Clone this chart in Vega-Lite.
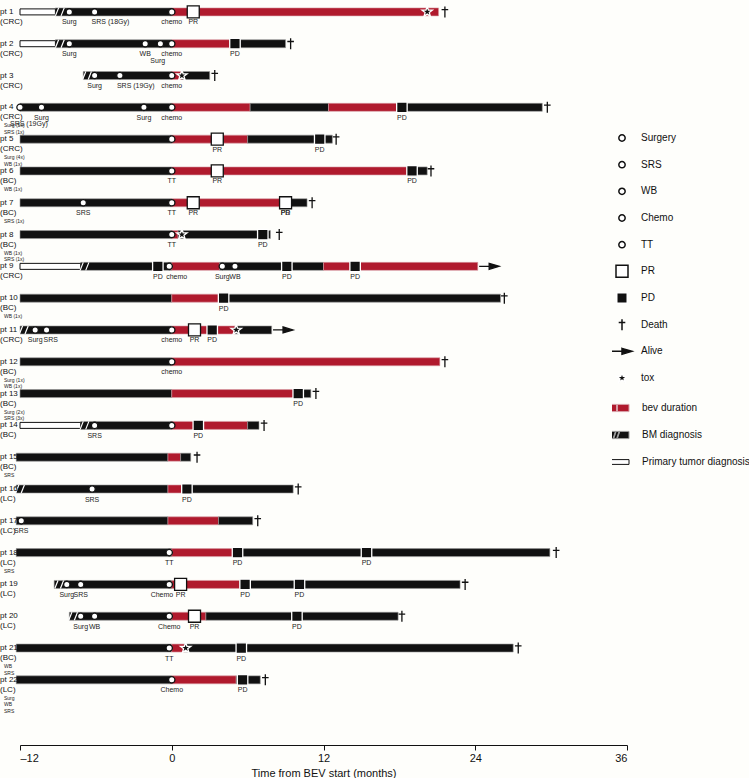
{
  "$schema": "https://vega.github.io/schema/vega-lite/v6.json",
  "width": 607,
  "height": 745,
  "padding": 0,
  "background": "#fefefb",
  "config": {"font": "Liberation Sans", "view": {"stroke": null}, "legend": {"labelFontSize": 10, "labelColor": "#111111", "padding": 0}},
  "datasets": {
    "segments": [
      {"row": 1, "phase": "Primary tumor diagnosis", "start": -12, "end": -9.2},
      {"row": 1, "phase": "BM diagnosis", "start": -9.2, "end": 0},
      {"row": 1, "phase": "bev duration", "start": 0, "end": 21.1},
      {"row": 2, "phase": "Primary tumor diagnosis", "start": -12, "end": -9.2},
      {"row": 2, "phase": "BM diagnosis", "start": -9.2, "end": 0},
      {"row": 2, "phase": "bev duration", "start": 0, "end": 4.6},
      {"row": 2, "phase": "BM diagnosis", "start": 4.6, "end": 9.0},
      {"row": 3, "phase": "BM diagnosis", "start": -7.0, "end": 0},
      {"row": 3, "phase": "bev duration", "start": 0, "end": 0.8},
      {"row": 3, "phase": "BM diagnosis", "start": 0.8, "end": 3.0},
      {"row": 4, "phase": "BM diagnosis", "start": -12, "end": 0},
      {"row": 4, "phase": "bev duration", "start": 0, "end": 6.2},
      {"row": 4, "phase": "BM diagnosis", "start": 6.2, "end": 12.4},
      {"row": 4, "phase": "bev duration", "start": 12.4, "end": 17.9},
      {"row": 4, "phase": "BM diagnosis", "start": 17.9, "end": 29.3},
      {"row": 5, "phase": "BM diagnosis", "start": -12, "end": 0},
      {"row": 5, "phase": "bev duration", "start": 0, "end": 6.0},
      {"row": 5, "phase": "BM diagnosis", "start": 6.0, "end": 12.7},
      {"row": 6, "phase": "BM diagnosis", "start": -12, "end": 0},
      {"row": 6, "phase": "bev duration", "start": 0, "end": 18.7},
      {"row": 6, "phase": "BM diagnosis", "start": 18.7, "end": 20.2},
      {"row": 7, "phase": "BM diagnosis", "start": -12, "end": 0},
      {"row": 7, "phase": "bev duration", "start": 0, "end": 8.6},
      {"row": 7, "phase": "BM diagnosis", "start": 8.6, "end": 10.7},
      {"row": 8, "phase": "BM diagnosis", "start": -12, "end": 0},
      {"row": 8, "phase": "bev duration", "start": 0, "end": 0.5},
      {"row": 8, "phase": "BM diagnosis", "start": 0.5, "end": 7.8},
      {"row": 9, "phase": "Primary tumor diagnosis", "start": -12, "end": -7.2},
      {"row": 9, "phase": "BM diagnosis", "start": -7.2, "end": 0},
      {"row": 9, "phase": "bev duration", "start": 0, "end": 3.8},
      {"row": 9, "phase": "BM diagnosis", "start": 3.8, "end": 12.0},
      {"row": 9, "phase": "bev duration", "start": 12.0, "end": 24.2},
      {"row": 10, "phase": "BM diagnosis", "start": -12, "end": 0},
      {"row": 10, "phase": "bev duration", "start": 0, "end": 3.8},
      {"row": 10, "phase": "BM diagnosis", "start": 3.8, "end": 26.0},
      {"row": 11, "phase": "BM diagnosis", "start": -12, "end": 0},
      {"row": 11, "phase": "bev duration", "start": 0, "end": 5.0},
      {"row": 11, "phase": "BM diagnosis", "start": 5.0, "end": 7.9},
      {"row": 12, "phase": "BM diagnosis", "start": -12, "end": 0},
      {"row": 12, "phase": "bev duration", "start": 0, "end": 21.2},
      {"row": 13, "phase": "BM diagnosis", "start": -12, "end": 0},
      {"row": 13, "phase": "bev duration", "start": 0, "end": 9.7},
      {"row": 13, "phase": "BM diagnosis", "start": 9.7, "end": 11.0},
      {"row": 14, "phase": "Primary tumor diagnosis", "start": -12, "end": -7.2},
      {"row": 14, "phase": "BM diagnosis", "start": -7.2, "end": 0},
      {"row": 14, "phase": "bev duration", "start": 0, "end": 6.0},
      {"row": 14, "phase": "BM diagnosis", "start": 6.0, "end": 6.9},
      {"row": 15, "phase": "BM diagnosis", "start": -12.3, "end": -0.3},
      {"row": 15, "phase": "bev duration", "start": -0.3, "end": 0.7},
      {"row": 15, "phase": "BM diagnosis", "start": 0.7, "end": 1.5},
      {"row": 16, "phase": "BM diagnosis", "start": -12.3, "end": -0.3},
      {"row": 16, "phase": "bev duration", "start": -0.3, "end": 0.8},
      {"row": 16, "phase": "BM diagnosis", "start": 0.8, "end": 9.6},
      {"row": 17, "phase": "BM diagnosis", "start": -12.3, "end": -0.3},
      {"row": 17, "phase": "bev duration", "start": -0.3, "end": 3.7},
      {"row": 17, "phase": "BM diagnosis", "start": 3.7, "end": 6.4},
      {"row": 18, "phase": "BM diagnosis", "start": -12.3, "end": 0},
      {"row": 18, "phase": "bev duration", "start": 0, "end": 4.9},
      {"row": 18, "phase": "BM diagnosis", "start": 4.9, "end": 29.9},
      {"row": 19, "phase": "BM diagnosis", "start": -9.3, "end": 0},
      {"row": 19, "phase": "bev duration", "start": 0, "end": 5.4},
      {"row": 19, "phase": "BM diagnosis", "start": 5.4, "end": 22.8},
      {"row": 20, "phase": "BM diagnosis", "start": -8.1, "end": 0},
      {"row": 20, "phase": "bev duration", "start": 0, "end": 2.7},
      {"row": 20, "phase": "BM diagnosis", "start": 2.7, "end": 17.9},
      {"row": 21, "phase": "BM diagnosis", "start": -12.3, "end": 0},
      {"row": 21, "phase": "bev duration", "start": 0, "end": 1.0},
      {"row": 21, "phase": "BM diagnosis", "start": 1.0, "end": 27.0},
      {"row": 22, "phase": "BM diagnosis", "start": -12.3, "end": 0},
      {"row": 22, "phase": "bev duration", "start": 0, "end": 5.1},
      {"row": 22, "phase": "BM diagnosis", "start": 5.1, "end": 7.0}
    ],
    "bm": [
      {"row": 1, "x": -8.85}, {"row": 2, "x": -8.85}, {"row": 3, "x": -6.7},
      {"row": 9, "x": -6.9}, {"row": 11, "x": -11.7}, {"row": 14, "x": -6.9},
      {"row": 16, "x": -12.0}, {"row": 19, "x": -8.9}, {"row": 20, "x": -7.8}
    ],
    "events": [
      {"row": 1, "event": "Surgery", "x": -8.1, "label": "Surg"},
      {"row": 1, "event": "SRS", "x": -6.1, "labelR": "SRS (18Gy)"},
      {"row": 1, "event": "Chemo", "x": 0, "label": "chemo"},
      {"row": 1, "event": "PR", "x": 1.7, "label": "PR"},
      {"row": 1, "event": "tox", "x": 20.2},
      {"row": 1, "event": "Death", "x": 21.6},
      {"row": 2, "event": "Surgery", "x": -8.1, "label": "Surg"},
      {"row": 2, "event": "WB", "x": -2.1, "label": "WB"},
      {"row": 2, "event": "Surgery", "x": -0.9, "label2": "Surg"},
      {"row": 2, "event": "Chemo", "x": 0, "label": "chemo"},
      {"row": 2, "event": "PD", "x": 5.0, "label": "PD"},
      {"row": 2, "event": "Death", "x": 9.4},
      {"row": 3, "event": "Surgery", "x": -6.1, "label": "Surg"},
      {"row": 3, "event": "SRS", "x": -4.1, "labelR": "SRS (19Gy)"},
      {"row": 3, "event": "Chemo", "x": 0, "label": "chemo"},
      {"row": 3, "event": "tox", "x": 0.8},
      {"row": 3, "event": "Death", "x": 3.4},
      {"row": 4, "event": "SRS", "x": -12, "label2": "SRS (19Gy)"},
      {"row": 4, "event": "Surgery", "x": -10.3, "label": "Surg"},
      {"row": 4, "event": "Surgery", "x": -2.2, "label": "Surg"},
      {"row": 4, "event": "Chemo", "x": 0, "label": "chemo"},
      {"row": 4, "event": "PD", "x": 18.2, "label": "PD"},
      {"row": 4, "event": "Death", "x": 29.7},
      {"row": 5, "event": "Chemo", "x": 0},
      {"row": 5, "event": "PR", "x": 3.6, "label": "PR"},
      {"row": 5, "event": "PD", "x": 11.7, "label": "PD"},
      {"row": 5, "event": "Death", "x": 13.0},
      {"row": 6, "event": "TT", "x": 0, "label": "TT"},
      {"row": 6, "event": "PR", "x": 3.6, "label": "PR"},
      {"row": 6, "event": "PD", "x": 19.0, "label": "PD"},
      {"row": 6, "event": "Death", "x": 20.5},
      {"row": 7, "event": "SRS", "x": -7.0, "label": "SRS"},
      {"row": 7, "event": "TT", "x": 0, "label": "TT"},
      {"row": 7, "event": "PR", "x": 1.7, "label": "PR"},
      {"row": 7, "event": "PD", "x": 9.0, "label": "PD"},
      {"row": 7, "event": "PR", "x": 9.0, "label": "PR"},
      {"row": 7, "event": "Death", "x": 11.1},
      {"row": 8, "event": "TT", "x": 0, "label": "TT"},
      {"row": 8, "event": "tox", "x": 0.8},
      {"row": 8, "event": "PD", "x": 7.2, "label": "PD"},
      {"row": 8, "event": "Death", "x": 8.5},
      {"row": 9, "event": "PD", "x": -1.1, "label": "PD"},
      {"row": 9, "event": "Chemo", "x": -0.2, "labelR": "chemo"},
      {"row": 9, "event": "Surgery", "x": 4.0, "label": "Surg"},
      {"row": 9, "event": "WB", "x": 5.0, "label": "WB"},
      {"row": 9, "event": "PD", "x": 9.1, "label": "PD"},
      {"row": 9, "event": "PD", "x": 14.5, "label": "PD"},
      {"row": 9, "event": "Alive", "x": 25.1},
      {"row": 10, "event": "PD", "x": 4.1, "label": "PD"},
      {"row": 10, "event": "Death", "x": 26.3},
      {"row": 11, "event": "Surgery", "x": -10.8, "label": "Surg"},
      {"row": 11, "event": "SRS", "x": -9.9, "labelR": "SRS"},
      {"row": 11, "event": "Chemo", "x": 0, "label": "chemo"},
      {"row": 11, "event": "PR", "x": 1.8, "label": "PR"},
      {"row": 11, "event": "PD", "x": 3.2, "label": "PD"},
      {"row": 11, "event": "tox", "x": 5.1},
      {"row": 11, "event": "Alive", "x": 8.8},
      {"row": 12, "event": "Chemo", "x": 0, "label": "chemo"},
      {"row": 12, "event": "Death", "x": 21.6},
      {"row": 13, "event": "PD", "x": 10.0, "label": "PD"},
      {"row": 13, "event": "Death", "x": 11.4},
      {"row": 14, "event": "SRS", "x": -6.1, "label": "SRS"},
      {"row": 14, "event": "Chemo", "x": 0},
      {"row": 14, "event": "PD", "x": 2.1, "label": "PD"},
      {"row": 14, "event": "Death", "x": 7.3},
      {"row": 15, "event": "Death", "x": 2.0},
      {"row": 16, "event": "SRS", "x": -6.3, "label": "SRS"},
      {"row": 16, "event": "PD", "x": 1.2, "label": "PD"},
      {"row": 16, "event": "Death", "x": 10.0},
      {"row": 17, "event": "SRS", "x": -11.9, "label": "SRS"},
      {"row": 17, "event": "Death", "x": 6.8},
      {"row": 18, "event": "TT", "x": -0.2, "label": "TT"},
      {"row": 18, "event": "PD", "x": 5.2, "label": "PD"},
      {"row": 18, "event": "PD", "x": 15.4, "label": "PD"},
      {"row": 18, "event": "Death", "x": 30.4},
      {"row": 19, "event": "Surgery", "x": -8.3, "label": "Surg"},
      {"row": 19, "event": "SRS", "x": -7.2, "label": "SRS"},
      {"row": 19, "event": "Chemo", "x": -0.2, "labelL": "Chemo"},
      {"row": 19, "event": "PR", "x": 0.7, "label": "PR"},
      {"row": 19, "event": "PD", "x": 5.8, "label": "PD"},
      {"row": 19, "event": "PD", "x": 10.1, "label": "PD"},
      {"row": 19, "event": "Death", "x": 23.2},
      {"row": 20, "event": "Surgery", "x": -7.2, "label": "Surg"},
      {"row": 20, "event": "WB", "x": -6.1, "label": "WB"},
      {"row": 20, "event": "Chemo", "x": -0.2, "label": "Chemo"},
      {"row": 20, "event": "PR", "x": 1.8, "label": "PR"},
      {"row": 20, "event": "PD", "x": 9.9, "label": "PD"},
      {"row": 20, "event": "Death", "x": 18.2},
      {"row": 21, "event": "TT", "x": -0.2, "label": "TT"},
      {"row": 21, "event": "tox", "x": 1.1},
      {"row": 21, "event": "PD", "x": 5.5, "label": "PD"},
      {"row": 21, "event": "Death", "x": 27.4},
      {"row": 22, "event": "Chemo", "x": 0, "label": "Chemo"},
      {"row": 22, "event": "PD", "x": 5.6, "label": "PD"},
      {"row": 22, "event": "Death", "x": 7.4}
    ],
    "patients": [
      {"row": 1, "pt": "pt 1", "type": "(CRC)"},
      {"row": 2, "pt": "pt 2", "type": "(CRC)"},
      {"row": 3, "pt": "pt 3", "type": "(CRC)"},
      {"row": 4, "pt": "pt 4", "type": "(CRC)", "note": "Surg (5x)\nSRS (1x)"},
      {"row": 5, "pt": "pt 5", "type": "(CRC)", "note": "Surg (4x)\nWB (1x)"},
      {"row": 6, "pt": "pt 6", "type": "(BC)", "note": "WB (1x)"},
      {"row": 7, "pt": "pt 7", "type": "(BC)", "note": "SRS (1x)"},
      {"row": 8, "pt": "pt 8", "type": "(BC)", "note": "WB (1x)\nSRS (1x)"},
      {"row": 9, "pt": "pt 9", "type": "(CRC)"},
      {"row": 10, "pt": "pt 10", "type": "(BC)", "note": "WB (1x)"},
      {"row": 11, "pt": "pt 11", "type": "(CRC)"},
      {"row": 12, "pt": "pt 12", "type": "(BC)", "note": "Surg (1x)\nWB (1x)"},
      {"row": 13, "pt": "pt 13", "type": "(BC)", "note": "Surg (2x)\nSRS (3x)"},
      {"row": 14, "pt": "pt 14", "type": "(BC)"},
      {"row": 15, "pt": "pt 15", "type": "(BC)", "note": "SRS"},
      {"row": 16, "pt": "pt 16", "type": "(LC)"},
      {"row": 17, "pt": "pt 17", "type": "(LC)"},
      {"row": 18, "pt": "pt 18", "type": "(LC)", "note": "SRS"},
      {"row": 19, "pt": "pt 19", "type": "(LC)"},
      {"row": 20, "pt": "pt 20", "type": "(LC)"},
      {"row": 21, "pt": "pt 21", "type": "(BC)", "note": "WB\nSRS"},
      {"row": 22, "pt": "pt 22", "type": "(LC)", "note": "Surg\nWB\nSRS"}
    ]
  },
  "encoding": {
    "y": {"field": "row", "type": "quantitative", "scale": {"domain": [0.783, 23.891], "reverse": true, "nice": false, "zero": false}, "axis": null}
  },
  "resolve": {"scale": {"fill": "independent", "stroke": "independent", "shape": "independent", "size": "independent"}},
  "layer": [
    {
      "data": {"name": "segments"},
      "layer": [
        {
          "transform": [{"filter": "datum.phase !== 'Primary tumor diagnosis'"}],
          "mark": {"type": "bar", "size": 8, "strokeWidth": 0.6}
        },
        {
          "transform": [{"filter": "datum.phase === 'Primary tumor diagnosis'"}],
          "mark": {"type": "bar", "size": 6, "strokeWidth": 1}
        }
      ],
      "encoding": {
        "x": {"field": "start", "type": "quantitative", "scale": {"domain": [-12, 36], "nice": false, "zero": false},
          "axis": {"values": [-12, 0, 12, 24, 36], "title": "Time from BEV start (months)", "grid": false, "labelFontSize": 11, "titleFontSize": 11, "titleFontWeight": "normal", "labelColor": "#111111", "titleColor": "#111111", "domainColor": "#111111", "tickColor": "#111111", "labelExpr": "datum.value < 0 ? '–' + abs(datum.value) : datum.label", "titlePadding": 4}},
        "x2": {"field": "end"},
        "fill": {"field": "phase", "type": "nominal",
          "scale": {"domain": ["bev duration", "BM diagnosis", "Primary tumor diagnosis"], "range": ["#b01a2d", "#111111", "#ffffff"]},
          "legend": {"orient": "none", "legendX": 592, "legendY": 398, "title": null, "clipHeight": 20, "rowPadding": 7, "labelOffset": 20, "symbolSize": 64, "symbolStrokeWidth": 1,
            "encode": {"symbols": {"update": {
              "size": {"value": 64},
              "shape": {"signal": "datum.value === 'bev duration' ? 'M-3,-0.9H-0.1V0.9H-3Z M0.1,-0.9H3V0.9H0.1Z' : datum.value === 'BM diagnosis' ? 'M-3,-0.9H3V0.9H-3Z M-1,0.9L-0.8,0.9L-0.2,-0.9L-0.4,-0.9Z M-0.1,0.9L0.1,0.9L0.7,-0.9L0.5,-0.9Z' : 'M-3,-0.6H3V0.6H-3Z'"},
              "stroke": {"signal": "datum.value === 'Primary tumor diagnosis' ? '#111111' : 'transparent'"}
            }}}}},
        "stroke": {"field": "phase", "type": "nominal",
          "scale": {"domain": ["bev duration", "BM diagnosis", "Primary tumor diagnosis"], "range": ["#d8a0a8", "#9a9a9a", "#111111"]},
          "legend": null}
      }
    },
    {
      "data": {"name": "bm"},
      "mark": {"type": "point", "shape": "M-1.1,1L-0.3,-1M0.3,1L1.1,-1", "size": 64, "stroke": "#ffffff", "strokeWidth": 1.2, "opacity": 1, "filled": false},
      "encoding": {"x": {"field": "x", "type": "quantitative"}}
    },
    {
      "data": {"name": "events"},
      "mark": {"type": "point", "filled": true, "opacity": 1, "strokeWidth": 1.3},
      "encoding": {
        "x": {"field": "x", "type": "quantitative"},
        "shape": {"field": "event", "type": "nominal",
          "scale": {"domain": ["Surgery", "SRS", "WB", "Chemo", "TT", "PR", "PD", "Death", "Alive", "tox"],
            "range": ["circle", "circle", "circle", "circle", "circle", "square", "square", "M0,-1V1M-0.6,-0.4H0.6", "M-1,0H0M0,-0.3L1,0L0,0.3Z", "M0,-1L0.235,-0.324L0.951,-0.309L0.38,0.124L0.588,0.809L0,0.4L-0.588,0.809L-0.38,0.124L-0.951,-0.309L-0.235,-0.324Z"]},
          "legend": {"orient": "none", "legendX": 591, "legendY": 128, "title": null, "clipHeight": 20, "rowPadding": 6.67, "labelOffset": 8, "symbolStrokeWidth": 1.5,
            "encode": {"symbols": {"update": {
              "size": {"signal": "datum.value === 'PR' || datum.value === 'PD' ? 225 : datum.value === 'tox' ? 400 : datum.value === 'Death' ? 180 : datum.value === 'Alive' ? 420 : 36"},
              "stroke": {"signal": "datum.value === 'PD' ? '#ffffff' : '#111111'"},
              "strokeWidth": {"signal": "datum.value === 'tox' ? 0.5 : 1.5"}
            }}}}},
        "fill": {"field": "event", "type": "nominal",
          "scale": {"domain": ["Surgery", "SRS", "WB", "Chemo", "TT", "PR", "PD", "Death", "Alive", "tox"],
            "range": ["#ffffff", "#ffffff", "#ffffff", "#ffffff", "#ffffff", "#ffffff", "#111111", "#111111", "#111111", "#111111"]},
          "legend": {"orient": "none", "legendX": 591, "legendY": 128, "title": null, "clipHeight": 20, "rowPadding": 6.67, "labelOffset": 8, "symbolStrokeWidth": 1.5,
            "encode": {"symbols": {"update": {
              "size": {"signal": "datum.value === 'PR' || datum.value === 'PD' ? 225 : datum.value === 'tox' ? 400 : datum.value === 'Death' ? 180 : datum.value === 'Alive' ? 420 : 36"},
              "stroke": {"signal": "datum.value === 'PD' ? '#ffffff' : '#111111'"},
              "strokeWidth": {"signal": "datum.value === 'tox' ? 0.5 : 1.5"}
            }}}}},
        "stroke": {"field": "event", "type": "nominal",
          "scale": {"domain": ["Surgery", "SRS", "WB", "Chemo", "TT", "PR", "PD", "Death", "Alive", "tox"],
            "range": ["#111111", "#111111", "#111111", "#111111", "#111111", "#111111", "#ffffff", "#111111", "#111111", "#ffffff"]},
          "legend": {"orient": "none", "legendX": 591, "legendY": 128, "title": null, "clipHeight": 20, "rowPadding": 6.67, "labelOffset": 8, "symbolStrokeWidth": 1.5,
            "encode": {"symbols": {"update": {
              "size": {"signal": "datum.value === 'PR' || datum.value === 'PD' ? 225 : datum.value === 'tox' ? 400 : datum.value === 'Death' ? 180 : datum.value === 'Alive' ? 420 : 36"},
              "stroke": {"signal": "datum.value === 'PD' ? '#ffffff' : '#111111'"},
              "strokeWidth": {"signal": "datum.value === 'tox' ? 0.5 : 1.5"}
            }}}}},
        "size": {"field": "event", "type": "nominal",
          "scale": {"type": "ordinal", "domain": ["Surgery", "SRS", "WB", "Chemo", "TT", "PR", "PD", "Death", "Alive", "tox"],
            "range": [40, 40, 40, 40, 40, 144, 110, 121, 400, 120]},
          "legend": {"orient": "none", "legendX": 591, "legendY": 128, "title": null, "clipHeight": 20, "rowPadding": 6.67, "labelOffset": 8, "symbolStrokeWidth": 1.5,
            "encode": {"symbols": {"update": {
              "size": {"signal": "datum.value === 'PR' || datum.value === 'PD' ? 225 : datum.value === 'tox' ? 400 : datum.value === 'Death' ? 180 : datum.value === 'Alive' ? 420 : 36"},
              "stroke": {"signal": "datum.value === 'PD' ? '#ffffff' : '#111111'"},
              "strokeWidth": {"signal": "datum.value === 'tox' ? 0.5 : 1.5"}
            }}}}}
      }
    },
    {
      "data": {"name": "events"},
      "transform": [{"filter": "datum.label"}],
      "mark": {"type": "text", "fontSize": 7, "dy": 10.5, "color": "#222222", "baseline": "middle"},
      "encoding": {"x": {"field": "x", "type": "quantitative"}, "text": {"field": "label"}}
    },
    {
      "data": {"name": "events"},
      "transform": [{"filter": "datum.labelR"}],
      "mark": {"type": "text", "fontSize": 7, "dy": 10.5, "dx": -3, "align": "left", "color": "#222222", "baseline": "middle"},
      "encoding": {"x": {"field": "x", "type": "quantitative"}, "text": {"field": "labelR"}}
    },
    {
      "data": {"name": "events"},
      "transform": [{"filter": "datum.labelL"}],
      "mark": {"type": "text", "fontSize": 7, "dy": 10.5, "dx": 4, "align": "right", "color": "#222222", "baseline": "middle"},
      "encoding": {"x": {"field": "x", "type": "quantitative"}, "text": {"field": "labelL"}}
    },
    {
      "data": {"name": "events"},
      "transform": [{"filter": "datum.label2"}],
      "mark": {"type": "text", "fontSize": 7, "dy": 17, "dx": -10, "align": "left", "color": "#222222", "baseline": "middle"},
      "encoding": {"x": {"field": "x", "type": "quantitative"}, "text": {"field": "label2"}}
    },
    {
      "data": {"name": "patients"},
      "mark": {"type": "text", "fontSize": 8, "align": "left", "dx": -20, "baseline": "middle", "color": "#111111"},
      "encoding": {"x": {"datum": -12, "type": "quantitative"}, "text": {"field": "pt"}}
    },
    {
      "data": {"name": "patients"},
      "mark": {"type": "text", "fontSize": 8, "align": "left", "dx": -20, "dy": 10, "baseline": "middle", "color": "#111111"},
      "encoding": {"x": {"datum": -12, "type": "quantitative"}, "text": {"field": "type"}}
    },
    {
      "data": {"name": "patients"},
      "transform": [{"filter": "datum.note"}],
      "mark": {"type": "text", "fontSize": 5, "align": "left", "dx": -16, "dy": 16, "baseline": "top", "lineBreak": "\n", "lineHeight": 6.5, "color": "#222222"},
      "encoding": {"x": {"datum": -12, "type": "quantitative"}, "text": {"field": "note"}}
    }
  ]
}
